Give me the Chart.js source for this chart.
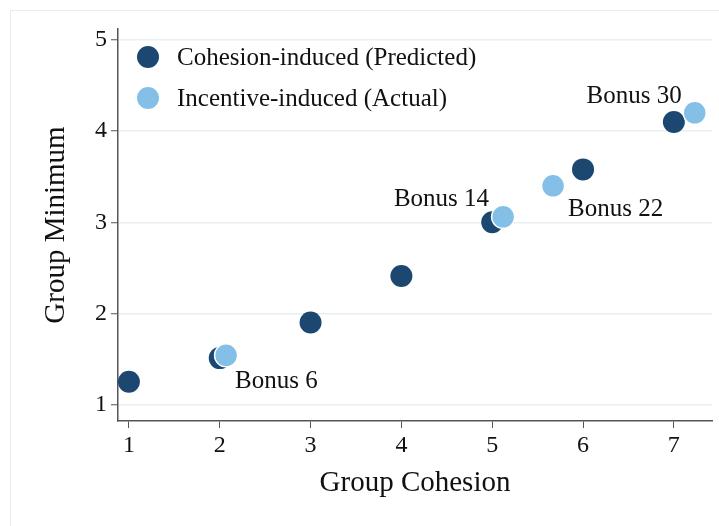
<!DOCTYPE html>
<html>
<head>
<meta charset="utf-8">
<script src="https://cdn.jsdelivr.net/npm/chart.js@4"></script>
<style>
  html, body { margin: 0; padding: 0; background: #fff; }
  #wrap { position: relative; width: 719px; height: 526px; }
</style>
</head>
<body>
<div id="wrap"><canvas id="chart" width="719" height="526"></canvas></div>
<script>
// values
const predictedX = [1, 2, 3, 4, 5, 6, 7]
const predictedY = [1.25, 1.51, 1.9, 2.41, 3.0, 3.58, 4.1]
const actualX = [2.07, 5.12, 5.67, 7.23]
const actualY = [1.54, 3.06, 3.4, 4.2]
const bonusLabels = ['Bonus 6', 'Bonus 14', 'Bonus 22', 'Bonus 30']
const xTicks = [1, 2, 3, 4, 5, 6, 7]
const yTicks = [1, 2, 3, 4, 5]
const seriesNames = ['Cohesion-induced (Predicted)', 'Incentive-induced (Actual)']

const DARK = '#1b4771'
const LIGHT = '#84bfe8'
const SERIF = '"Liberation Serif", "DejaVu Serif", serif'

// where each bonus label sits relative to its point (px), and its alignment
const labelPlace = [
  { dx: 9, dy: 26, align: 'left' },
  { dx: -14, dy: -17, align: 'right' },
  { dx: 15, dy: 24, align: 'left' },
  { dx: -13, dy: -16, align: 'right' },
]

const toPoints = (xs, ys) => xs.map((x, i) => ({ x: x, y: ys[i] }))

const framePlugin = {
  id: 'frame',
  beforeDraw(chart) {
    const ctx = chart.ctx
    ctx.save()
    ctx.strokeStyle = '#e6eded'
    ctx.lineWidth = 1
    ctx.strokeRect(10.5, 10.5, chart.width, chart.height)
    ctx.restore()
  },
}

const labelsPlugin = {
  id: 'bonusLabels',
  afterDatasetsDraw(chart) {
    const ctx = chart.ctx
    const xs = chart.scales.x
    const ys = chart.scales.y
    ctx.save()
    ctx.font = '25px ' + SERIF
    ctx.fillStyle = '#111'
    ctx.textBaseline = 'middle'
    bonusLabels.forEach((txt, i) => {
      const p = labelPlace[i]
      ctx.textAlign = p.align
      ctx.fillText(txt, xs.getPixelForValue(actualX[i]) + p.dx, ys.getPixelForValue(actualY[i]) + p.dy)
    })

    // legend inside the plot, top left
    const lx = chart.chartArea.left + 30
    const colors = [DARK, LIGHT]
    ctx.textAlign = 'left'
    seriesNames.forEach((name, i) => {
      const ly = chart.chartArea.top + 28 + i * 41
      ctx.beginPath()
      ctx.arc(lx, ly, 11, 0, Math.PI * 2)
      ctx.fillStyle = colors[i]
      ctx.fill()
      ctx.fillStyle = '#111'
      ctx.fillText(name, lx + 29, ly + 1)
    })
    ctx.restore()
  },
}

new Chart(document.getElementById('chart'), {
  type: 'scatter',
  data: {
    datasets: [
      {
        label: seriesNames[0],
        data: toPoints(predictedX, predictedY),
        backgroundColor: DARK,
        borderColor: DARK,
        borderWidth: 0,
        pointRadius: 11,
        pointHoverRadius: 11,
        order: 2,
      },
      {
        label: seriesNames[1],
        data: toPoints(actualX, actualY),
        backgroundColor: LIGHT,
        borderColor: '#ffffff',
        borderWidth: 1.5,
        pointRadius: 11.5,
        pointHoverRadius: 11.5,
        order: 1,
      },
    ],
  },
  options: {
    responsive: false,
    animation: false,
    events: [],
    layout: { autoPadding: false, padding: { top: 29, right: 7, left: 0, bottom: 0 } },
    plugins: {
      legend: { display: false },
      tooltip: { enabled: false },
    },
    scales: {
      x: {
        type: 'linear',
        min: 0.88,
        max: 7.42,
        afterFit: s => { s.height = 105; s.paddingLeft = 0; s.paddingRight = 0 },
        afterBuildTicks: s => { s.ticks = xTicks.map(v => ({ value: v })) },
        border: { color: '#555', width: 1.5 },
        grid: { drawOnChartArea: false, tickLength: 7, tickColor: '#555', tickWidth: 1 },
        ticks: { color: '#111', padding: 3, font: { family: SERIF, size: 24 } },
        title: {
          display: true,
          text: 'Group Cohesion',
          color: '#111',
          font: { family: SERIF, size: 29 },
          padding: { top: 0, bottom: 25 },
        },
      },
      y: {
        type: 'linear',
        min: 0.82,
        max: 5.12,
        afterFit: s => { s.width = 118; s.paddingTop = 0; s.paddingBottom = 0 },
        afterBuildTicks: s => { s.ticks = yTicks.map(v => ({ value: v })) },
        border: { color: '#555', width: 1.5 },
        grid: { color: '#e8eff2', lineWidth: 1.5, tickLength: 7, tickColor: '#555', tickWidth: 1 },
        ticks: { color: '#111', padding: 4, font: { family: SERIF, size: 24 } },
        title: {
          display: true,
          text: 'Group Minimum',
          color: '#111',
          font: { family: SERIF, size: 29 },
          padding: { top: 39, bottom: 0 },
        },
      },
    },
  },
  plugins: [framePlugin, labelsPlugin],
})
</script>
</body>
</html>
